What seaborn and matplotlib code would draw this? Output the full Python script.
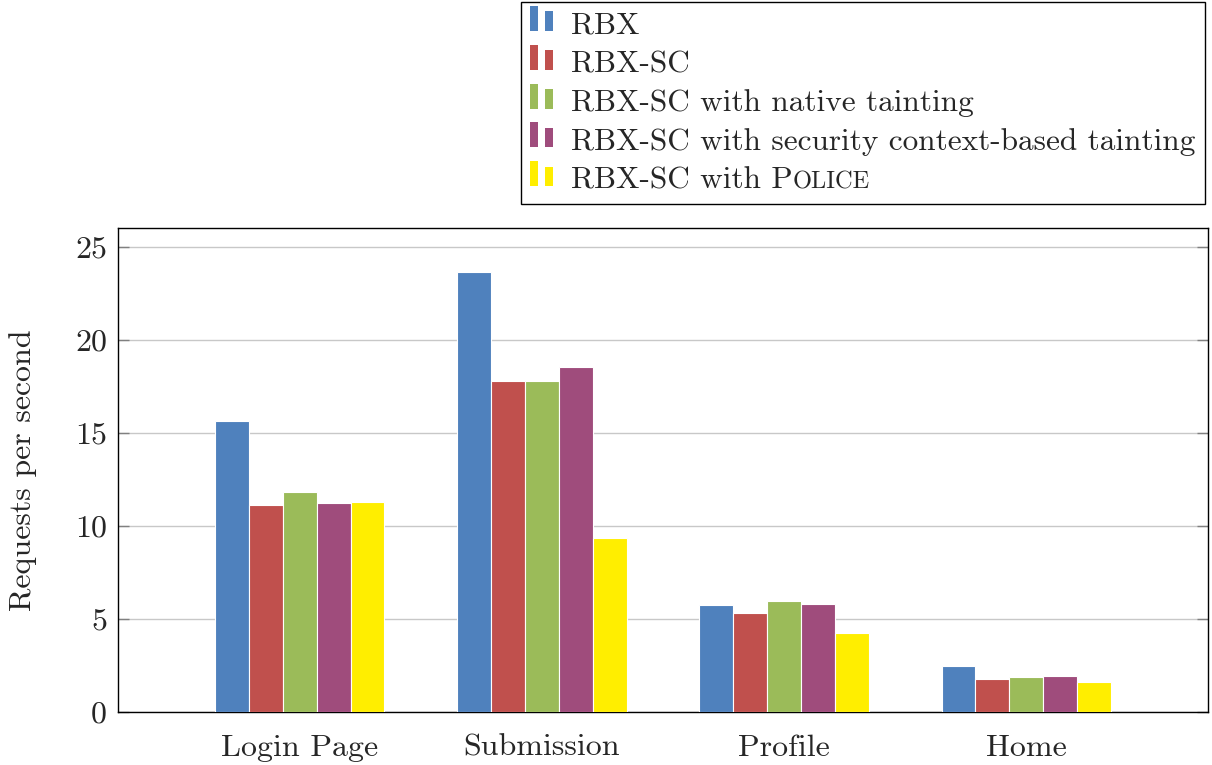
import matplotlib
matplotlib.use("Agg")
import matplotlib.pyplot as plt
import seaborn as sns
import pandas as pd
from matplotlib.patches import Rectangle, Patch
from matplotlib.legend_handler import HandlerBase

# Throughput measurements (requests per second) per page and configuration
pages = ["Login Page", "Submission", "Profile", "Home"]
configs = [
    "RBX",
    "RBX-SC",
    "RBX-SC with native tainting",
    "RBX-SC with security context-based tainting",
    "RBX-SC with Police",
]
rbx = [15.63, 23.66, 5.74, 2.48]
rbx_sc = [11.14, 17.79, 5.33, 1.79]
rbx_sc_native = [11.84, 17.76, 5.95, 1.88]
rbx_sc_context = [11.21, 18.51, 5.81, 1.91]
rbx_sc_police = [11.28, 9.33, 4.22, 1.61]
colors = ["#4F81BD", "#C0504D", "#9BBB59", "#9F4C7C", "#FFEE00"]
yticks = [0, 5, 10, 15, 20, 25]

series = [rbx, rbx_sc, rbx_sc_native, rbx_sc_context, rbx_sc_police]
df = pd.DataFrame(
    [(p, c, v) for c, vals in zip(configs, series) for p, v in zip(pages, vals)],
    columns=["page", "config", "rps"],
)

sns.set_style("white")
FS = 23
LFS = 22.5
plt.rcParams.update({
    "font.family": ["cmr10", "DejaVu Serif"],
    "axes.formatter.use_mathtext": True,
    "font.size": FS,
})

fig = plt.figure(figsize=(12.12, 7.65), dpi=100)
ax = fig.add_axes([118 / 1212, 1 - 712 / 765, (1208 - 118) / 1212, (712 - 228) / 765])

sns.barplot(
    data=df, x="page", y="rps", hue="config",
    order=pages, hue_order=configs, palette=colors, saturation=1,
    width=0.7, edgecolor="white", linewidth=0.8,
    legend=False, ax=ax, zorder=3,
)

ax.set_xlim(-0.75, 3.75)
ax.set_ylim(0, 26)
ax.set_yticks(yticks)
ax.set_yticklabels([str(t) for t in yticks])
ax.set_xlabel("")
ax.set_ylabel("Requests per second", fontsize=FS, labelpad=27)
ax.yaxis.grid(True, color="#c8c8c8", linewidth=1.0, zorder=0)
ax.set_axisbelow(True)
ax.tick_params(axis="y", direction="in", length=8, width=1.0, color="#808080",
               left=True, right=True, labelsize=FS, pad=8)
ax.tick_params(axis="x", length=0, labelsize=FS, pad=16)
for s in ax.spines.values():
    s.set_color("black")
    s.set_linewidth(1.0)


class PairedBarHandler(HandlerBase):
    """Legend key drawn as two small bars, the first taller than the second."""

    def create_artists(self, legend, orig_handle, xdescent, ydescent,
                       width, height, fontsize, trans):
        fc = orig_handle.get_facecolor()
        x0, y0 = -xdescent, -ydescent
        bw = 0.25 * fontsize
        base = y0 + 0.08 * fontsize
        tall = Rectangle((x0, base), bw, 0.80 * fontsize, facecolor=fc,
                         edgecolor="none", transform=trans)
        short = Rectangle((x0 + 0.48 * fontsize, base), bw, 0.63 * fontsize,
                          facecolor=fc, edgecolor="none", transform=trans)
        return [tall, short]


labels = configs[:-1] + ["RBX-SC with P"]
handles = [Patch(facecolor=c) for c in colors]
leg = fig.legend(
    handles, labels, loc="upper right",
    bbox_to_anchor=(1205 / 1212, 1 - 2 / 765), bbox_transform=fig.transFigure,
    handler_map={Patch: PairedBarHandler()},
    handlelength=0.77, handleheight=0.7, handletextpad=0.55,
    labelspacing=0.35, borderpad=0.3, borderaxespad=0.0,
    fancybox=False, framealpha=1.0, edgecolor="black", fontsize=LFS,
)
leg.get_frame().set_linewidth(1.0)

# Small caps for the tool name in the last legend entry
fig.canvas.draw()
renderer = fig.canvas.get_renderer()
last = leg.get_texts()[-1]
bb = last.get_window_extent(renderer)
_, _, lp_desc = renderer.get_text_width_height_descent("lp", last.get_fontproperties(), ismath=False)
fig.text(bb.x1 / fig.bbox.width, (bb.y0 + lp_desc) / fig.bbox.height, "OLICE",
         fontsize=LFS * 0.78, va="baseline", ha="left", zorder=10)

fig.savefig("out.png", dpi=100)
